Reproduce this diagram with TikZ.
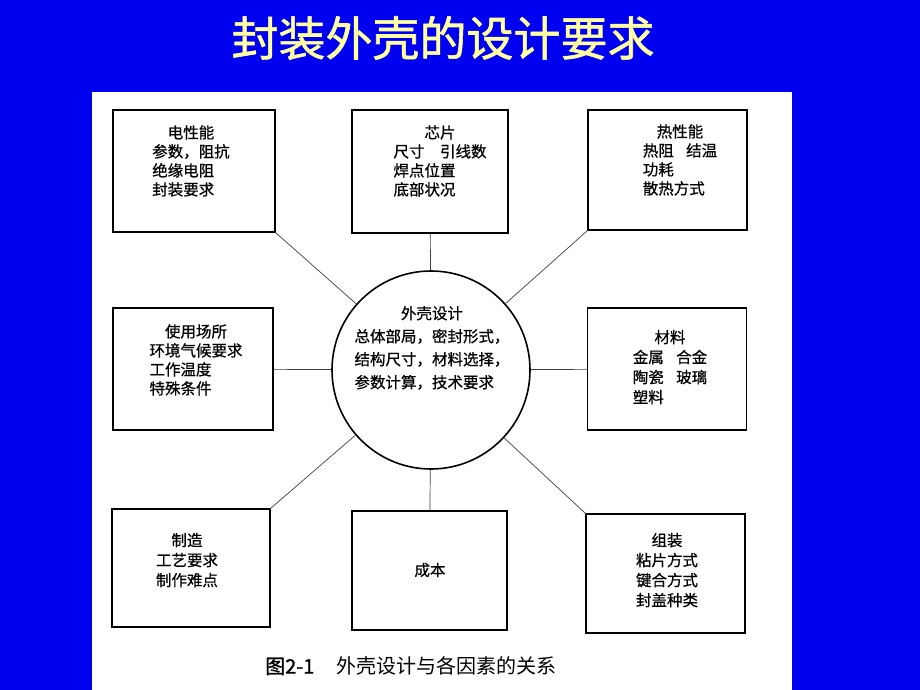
\documentclass[tikz,border=0pt]{standalone}
\usepackage{fontspec}
\setmainfont{Noto Sans CJK SC}
\newfontfamily\cjkb[FakeBold=1.2]{Noto Sans CJK SC}
\newfontfamily\cjkm[FakeBold=0.6]{Noto Sans CJK SC}
\definecolor{bgblue}{RGB}{0,0,240}
\definecolor{titleyellow}{RGB}{255,255,160}
\begin{document}
\begin{tikzpicture}[x=1pt,y=-1pt,
  box/.style={draw=black, line width=1.6pt, inner sep=0pt, rectangle},
  conn/.style={draw=black!75, line width=0.7pt},
  lbl/.style={font=\cjkm\fontsize{15.5}{19}\selectfont, inner sep=0pt, anchor=center},
  clbl/.style={font=\cjkm\fontsize{15.5}{23}\selectfont, inner sep=0pt, anchor=center}
]
\fill[bgblue] (0,0) rectangle (920,690);
\useasboundingbox (0,0) rectangle (920,690);
\fill[white] (92,92) rectangle (792,690);

% title
\node[font=\cjkb\fontsize{47}{47}\selectfont, text=titleyellow, inner sep=0pt] (title) at (443,38) {封装外壳的设计要求};

% boxes
\node[box, minimum width=162, minimum height=122] (ele) at (194,171) {};
\node[box, minimum width=156, minimum height=123] (chip) at (430,171.5) {};
\node[box, minimum width=159, minimum height=120] (therm) at (667.5,170) {};
\node[box, minimum width=160, minimum height=122] (use) at (193,369) {};
\node[box, minimum width=159, minimum height=122] (mat) at (667,369) {};
\node[box, minimum width=158, minimum height=118] (make) at (191,568) {};
\node[box, minimum width=155, minimum height=119] (cost) at (429.5,570.5) {};
\node[box, minimum width=159, minimum height=119] (asm) at (665.5,573.5) {};
\node[draw=black, line width=1.6pt, circle, minimum size=198, inner sep=0pt] (circ) at (431,370) {};

% texts
\node[lbl] (eletxt) at (191,163) {\begin{tabular}{@{}l@{}}\multicolumn{1}{@{}c@{}}{电性能}\\参数，阻抗\\绝缘电阻\\封装要求\end{tabular}};
\node[lbl] (chiptxt) at (440,163) {\begin{tabular}{@{}l@{}}\multicolumn{1}{@{}c@{}}{芯片}\\尺寸　引线数\\焊点位置\\底部状况\end{tabular}};
\node[lbl] (thermtxt) at (680,162) {\begin{tabular}{@{}l@{}}\multicolumn{1}{@{}c@{}}{热性能}\\热阻\hspace{0.8em}结温\\功耗\\散热方式\end{tabular}};
\node[lbl] (usetxt) at (196,362) {\begin{tabular}{@{}l@{}}\multicolumn{1}{@{}c@{}}{使用场所}\\环境气候要求\\工作温度\\特殊条件\end{tabular}};
\node[clbl] (circtxt) at (432,349) {\begin{tabular}{@{}l@{}}\multicolumn{1}{@{}c@{}}{外壳设计}\\总体部局，密封形式，\\结构尺寸，材料选择，\\参数计算，技术要求\end{tabular}};
\node[lbl, font=\cjkm\fontsize{15.5}{20}\selectfont] (mattxt) at (670,369) {\begin{tabular}{@{}l@{}}\multicolumn{1}{@{}c@{}}{材料}\\金属\hspace{0.8em}合金\\陶瓷\hspace{0.8em}玻璃\\塑料\end{tabular}};
\node[lbl, font=\cjkm\fontsize{15.5}{20}\selectfont] (maketxt) at (187,562) {\begin{tabular}{@{}c@{}}制造\\工艺要求\\制作难点\end{tabular}};
\node[lbl] (costtxt) at (430,570) {成本};
\node[lbl, font=\cjkm\fontsize{15.5}{20}\selectfont] (asmtxt) at (667,572) {\begin{tabular}{@{}c@{}}组装\\粘片方式\\键合方式\\封盖种类\end{tabular}};

% caption
\node[anchor=west, inner sep=0pt, font=\fontsize{20}{20}\selectfont] (caption) at (265,666) {{\cjkb 图2-1}\hspace{22pt}外壳设计与各因素的关系};

% connectors
\draw[conn] (circ) -- (ele.south east);
\draw[conn] (circ) -- (chip);
\draw[conn] (circ) -- (therm.south west);
\draw[conn] (circ) -- (use);
\draw[conn] (circ) -- (mat);
\draw[conn] (circ) -- (make.north east);
\draw[conn] (circ) -- (cost);
\draw[conn] (circ) -- (asm.north west);
\end{tikzpicture}
\end{document}
